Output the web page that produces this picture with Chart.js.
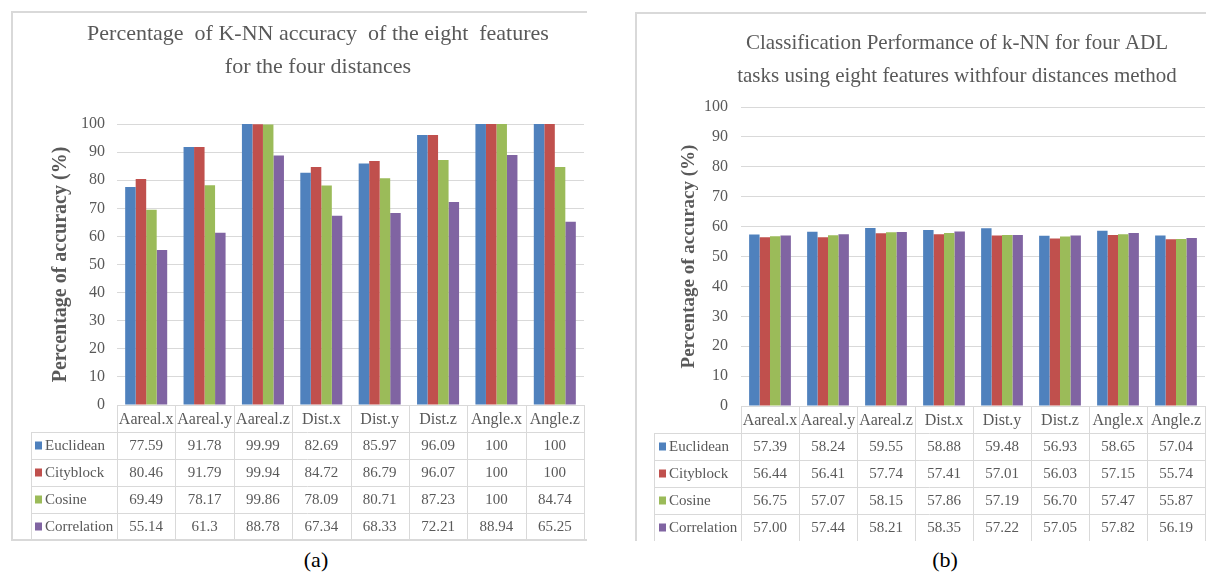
<!DOCTYPE html>
<html>
<head>
<meta charset="utf-8">
<script src="https://cdn.jsdelivr.net/npm/chart.js@4/dist/chart.umd.min.js"></script>
<style>
  html, body { margin: 0; padding: 0; background: #fff; overflow: hidden; }
  body { width: 1206px; height: 573px; position: relative; }
  .frame { position: absolute; border: 2px solid #d9d9d9; box-sizing: border-box; }
  .wrap { position: absolute; }
  .cap { position: absolute; font: 22px "Liberation Serif", serif; color: #000; transform: translateX(-50%); }
</style>
</head>
<body>
<div class="frame" style="left:11px; top:11px; width:576px; height:530px; border-right:none;"></div>
<div class="frame" style="left:635px; top:12px; width:600px; height:529px; border-bottom:none;"></div>

<div class="wrap" style="left:31px; top:12px; width:574px; height:528px;"><canvas id="chart-a"></canvas></div>
<div class="wrap" style="left:654px; top:13px; width:606px; height:528px;"><canvas id="chart-b"></canvas></div>

<div class="cap" style="left:316px; top:547px;">(a)</div>
<div class="cap" style="left:945px; top:547px;">(b)</div>

<script>
/* 두 패널 모두 같은 카테고리·계열, 아래 데이터 표는 x축 눈금에 맞춰 그린다. */

const BLUE = "#4f81bd";
const RED = "#c0504d";
const GREEN = "#9bbb59";
const PURPLE = "#8064a2";
const GRID = "#d9d9d9";
const INK = "#595959";

const CATEGORIES = ["Aareal.x", "Aareal.y", "Aareal.z", "Dist.x", "Dist.y", "Dist.z", "Angle.x", "Angle.z"];
const SERIES = ["Euclidean", "Cityblock", "Cosine", "Correlation"];
const COLORS = [BLUE, RED, GREEN, PURPLE];

// (a) 여덟 특징별 K-NN 정확도
const EUCLIDEAN_A = [77.59, 91.78, 99.99, 82.69, 85.97, 96.09, 100, 100];
const CITYBLOCK_A = [80.46, 91.79, 99.94, 84.72, 86.79, 96.07, 100, 100];
const COSINE_A = [69.49, 78.17, 99.86, 78.09, 80.71, 87.23, 100, 84.74];
const CORRELATION_A = [55.14, 61.3, 88.78, 67.34, 68.33, 72.21, 88.94, 65.25];

// (b) 네 가지 ADL 작업 분류 성능
const EUCLIDEAN_B = [57.39, 58.24, 59.55, 58.88, 59.48, 56.93, 58.65, 57.04];
const CITYBLOCK_B = [56.44, 56.41, 57.74, 57.41, 57.01, 56.03, 57.15, 55.74];
const COSINE_B = [56.75, 57.07, 58.15, 57.86, 57.19, 56.70, 57.47, 55.87];
const CORRELATION_B = [57.00, 57.44, 58.21, 58.35, 57.22, 57.05, 57.82, 56.19];

const Y_MIN = 0, Y_MAX = 100, Y_STEP = 10;

Chart.defaults.font.family = '"Liberation Serif", "DejaVu Serif", serif';
Chart.defaults.color = INK;

// 차트 아래 데이터 표 (엑셀식 data table)
const dataTable = {
  id: "dataTable",
  afterDraw(chart, _args, opts) {
    const { ctx } = chart;
    const x = chart.scales.x;
    const n = chart.data.labels.length;
    const cw = (x.right - x.left) / n;
    const rowH = opts.rowH;
    const top = x.top, headBottom = x.bottom;
    const bottom = headBottom + rowH * SERIES.length;
    const colLeft = opts.colLeft;

    ctx.save();
    ctx.strokeStyle = GRID;
    ctx.lineWidth = 1;
    ctx.beginPath();
    for (let k = 0; k <= n; k++) {
      const px = Math.round(x.left + k * cw) + 0.5;
      ctx.moveTo(px, top);
      ctx.lineTo(px, bottom);
    }
    ctx.moveTo(colLeft + 0.5, headBottom);
    ctx.lineTo(colLeft + 0.5, bottom);
    const lastRow = opts.closeBottom ? SERIES.length : SERIES.length - 1;
    for (let r = 0; r <= lastRow; r++) {
      const py = Math.round(headBottom + r * rowH) + 0.5;
      ctx.moveTo(colLeft, py);
      ctx.lineTo(x.right, py);
    }
    ctx.stroke();

    ctx.font = '15px "Liberation Serif", serif';
    ctx.textBaseline = "middle";
    chart.data.datasets.forEach((ds, r) => {
      const cy = headBottom + r * rowH + rowH / 2;
      ctx.fillStyle = ds.backgroundColor;
      ctx.fillRect(colLeft + opts.keyX, cy - 4, 7, 8);
      ctx.fillStyle = INK;
      ctx.textAlign = "left";
      ctx.fillText(ds.label, colLeft + opts.keyX + 10, cy + 1);
      ctx.textAlign = "center";
      ds.data.forEach((v, j) => {
        ctx.fillText(opts.fmt(v), x.getPixelForValue(j), cy + 1);
      });
    });
    ctx.restore();
  },
};

function makeChart(id, series, cfg) {
  return new Chart(document.getElementById(id), {
    type: "bar",
    data: {
      labels: CATEGORIES,
      datasets: series.map((d, i) => ({
        label: SERIES[i],
        data: d,
        backgroundColor: COLORS[i],
        categoryPercentage: 0.72,
        barPercentage: 1.0,
      })),
    },
    options: {
      responsive: true,
      maintainAspectRatio: false,
      animation: false,
      layout: { padding: { left: 0, right: 0, top: 0, bottom: 108 } },
      plugins: {
        legend: { display: false },
        tooltip: { enabled: false },
        title: {
          display: true,
          text: cfg.title,
          color: INK,
          font: { size: cfg.titleSize, weight: "normal", lineHeight: 33 / cfg.titleSize },
          padding: { top: cfg.titleTop, bottom: cfg.titleBottom },
        },
        dataTable: { rowH: 27, colLeft: 0, keyX: cfg.keyX, fmt: cfg.fmt, closeBottom: cfg.closeBottom },
      },
      scales: {
        x: {
          grid: { display: false },
          border: { display: false },
          ticks: { color: INK, font: { size: 16 }, padding: -3, maxRotation: 0, autoSkip: false },
          afterFit: (s) => { s.height = 27; },
        },
        y: {
          min: Y_MIN,
          max: Y_MAX,
          grid: { color: GRID, drawTicks: false },
          border: { display: false },
          ticks: { stepSize: Y_STEP, color: INK, font: { size: 16 }, padding: cfg.tickPad },
          title: {
            display: true,
            text: "Percentage of accuracy (%)",
            color: INK,
            font: { size: cfg.axisTitleSize, weight: "bold" },
            padding: { top: cfg.axisTitleTop, bottom: 0 },
          },
          afterFit: (s) => { s.width = cfg.axisWidth; },
        },
        // 오른쪽 여백용 빈 축 (제목 가운데 정렬을 유지하려고 layout padding 대신 사용)
        spacer: {
          type: "linear",
          position: "right",
          grid: { display: false },
          border: { display: false },
          ticks: { display: false },
          afterFit: (s) => { s.width = cfg.padRight; },
        },
      },
    },
    plugins: [dataTable],
  });
}

makeChart("chart-a", [EUCLIDEAN_A, CITYBLOCK_A, COSINE_A, CORRELATION_A], {
  title: ["Percentage  of K-NN accuracy  of the eight  features", "for the four distances"],
  titleSize: 22, titleTop: 6, titleBottom: 40,
  padRight: 21, axisWidth: 86, tickPad: 12, axisTitleTop: 18, axisTitleSize: 20,
  keyX: 4, closeBottom: true,
  fmt: (v) => String(v),
});

makeChart("chart-b", [EUCLIDEAN_B, CITYBLOCK_B, COSINE_B, CORRELATION_B], {
  title: ["Classification Performance of k-NN for four ADL", "tasks using eight features withfour distances method"],
  titleSize: 21, titleTop: 14, titleBottom: 14,
  padRight: 55, axisWidth: 87, tickPad: 13, axisTitleTop: 24, axisTitleSize: 19,
  keyX: 5, closeBottom: false,
  fmt: (v) => v.toFixed(2),
});
</script>
</body>
</html>
